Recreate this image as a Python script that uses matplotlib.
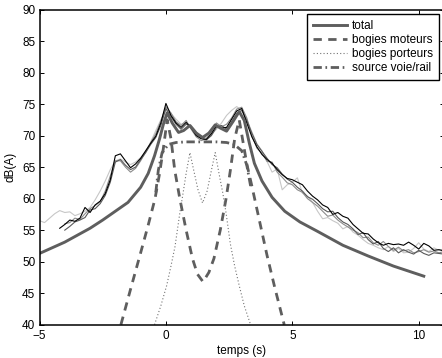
import numpy as np
import matplotlib
matplotlib.use("Agg")
import matplotlib.pyplot as plt

plt.rcParams['font.family'] = ['Liberation Sans', 'DejaVu Sans']
plt.rcParams['font.size'] = 8.5

# MESURES (4 passages), grille temporelle commune
t_mes = [-5.0, -4.8, -4.6, -4.4, -4.2, -4.0, -3.8, -3.6, -3.4, -3.2,
         -3.0, -2.8, -2.6, -2.4, -2.2, -2.0, -1.8, -1.6, -1.4, -1.2,
         -1.0, -0.8, -0.6, -0.4, -0.2, 0.0, 0.2, 0.4, 0.6, 0.8,
         1.0, 1.2, 1.4, 1.6, 1.8, 2.0, 2.2, 2.4, 2.6, 2.8,
         3.0, 3.2, 3.4, 3.6, 3.8, 4.0, 4.2, 4.4, 4.6, 4.8,
         5.0, 5.2, 5.4, 5.6, 5.8, 6.0, 6.2, 6.4, 6.6, 6.8,
         7.0, 7.2, 7.4, 7.6, 7.8, 8.0, 8.2, 8.4, 8.6, 8.8,
         9.0, 9.2, 9.4, 9.6, 9.8, 10.0, 10.2, 10.4, 10.6, 10.8, 11.0]
nan = np.nan
mes_noir = [nan, nan, nan, nan, 55.3, 55.9, 56.6, 56.4, 56.9, 58.6,
            57.8, 59.0, 59.6, 60.8, 63.0, 66.8, 67.1, 66.0, 64.9, 65.5,
            66.4, 67.6, 68.8, 69.9, 72.0, 75.1, 73.2, 72.0, 71.3, 72.1,
            71.2, 70.0, 69.5, 69.4, 70.3, 71.6, 71.2, 71.3, 72.6, 73.9,
            74.3, 72.0, 69.8, 68.2, 67.0, 66.2, 65.6, 64.6, 63.8, 63.2,
            63.0, 62.6, 62.2, 61.2, 60.4, 59.8, 59.0, 58.6, 57.5, 57.8,
            57.2, 56.9, 55.9, 55.2, 54.5, 54.4, 53.6, 53.0, 52.6, 52.9,
            52.7, 52.8, 52.6, 53.1, 52.6, 52.0, 52.9, 52.5, 51.8, 51.9, 51.7]
mes_fonce = [nan, nan, nan, nan, nan, 55.0, 55.6, 56.3, 56.6, 57.0,
             58.2, 58.4, 59.2, 60.5, 62.6, 65.8, 66.2, 65.3, 64.6, 65.0,
             66.2, 67.3, 68.6, 69.7, 71.6, 74.3, 73.0, 71.8, 71.0, 71.8,
             71.4, 70.2, 69.6, 69.3, 70.0, 71.3, 71.6, 71.0, 72.2, 73.5,
             74.0, 72.4, 70.4, 68.6, 67.5, 66.4, 65.4, 64.9, 63.9, 63.1,
             62.6, 61.8, 61.2, 60.3, 59.9, 59.2, 58.4, 57.9, 58.0, 57.0,
             56.3, 55.9, 55.2, 54.3, 54.6, 53.5, 52.8, 53.2, 52.1, 51.6,
             52.2, 51.4, 51.9, 51.5, 51.2, 51.8, 51.3, 51.0, 51.4, 51.3, 51.2]
mes_moyen = [nan, nan, nan, nan, nan, 56.0, 56.2, 56.9, 56.7, 57.6,
             58.4, 58.9, 59.5, 61.2, 63.6, 66.0, 66.0, 65.0, 64.2, 64.8,
             66.0, 67.4, 68.9, 70.3, 72.3, 74.6, 73.6, 72.2, 71.6, 72.4,
             71.0, 69.8, 69.2, 69.5, 70.6, 72.0, 71.4, 71.8, 72.8, 74.2,
             74.5, 72.8, 70.0, 68.0, 67.2, 65.9, 65.8, 64.2, 63.4, 62.5,
             62.2, 61.4, 61.0, 60.0, 59.4, 58.8, 58.0, 57.2, 57.4, 56.6,
             56.0, 55.5, 55.0, 54.6, 53.8, 53.9, 53.0, 52.6, 53.2, 52.4,
             51.8, 52.3, 51.7, 51.9, 51.4, 51.6, 51.9, 51.5, 51.7, 51.4, 51.6]
mes_clair = [56.5, 56.2, 56.9, 57.6, 58.1, 57.8, 57.9, 57.3, 57.6, 58.0,
             58.6, 59.8, 61.2, 62.8, 64.6, 66.0, 66.3, 65.8, 65.4, 65.8,
             66.5, 67.4, 69.0, 70.8, 72.5, 74.0, 73.5, 72.6, 71.8, 72.0,
             71.6, 70.6, 69.8, 69.7, 70.2, 71.0, 72.0, 73.2, 74.0, 74.6,
             74.0, 72.6, 70.6, 68.7, 67.6, 65.9, 64.2, 64.7, 61.4, 62.2,
             62.6, 63.3, 60.9, 60.4, 59.4, 58.0, 56.8, 57.0, 56.5, 56.1,
             55.2, 55.6, 54.7, 54.2, 53.5, 52.9, 52.6, 52.2, 51.9, 52.4,
             51.6, 52.1, 51.4, 51.5, 52.1, 53.0, 52.0, 51.6, 52.2, 51.8, 52.0]

# MODELE : total
t_total = [-5.0, -4.0, -3.0, -2.5, -2.0, -1.5, -1.0, -0.7, -0.45, -0.25,
           -0.1, 0.05, 0.25, 0.5, 0.7, 0.95, 1.2, 1.45, 1.7, 1.95,
           2.15, 2.4, 2.65, 2.9, 3.1, 3.3, 3.5, 3.8, 4.2, 4.7,
           5.3, 6.0, 7.0, 8.0, 9.0, 10.2]
L_total = [51.3, 53.1, 55.3, 56.6, 58.0, 59.4, 61.8, 64.0, 66.8, 69.5,
           71.8, 73.6, 72.0, 70.5, 70.8, 71.6, 70.4, 69.7, 70.4, 71.7,
           71.2, 70.7, 72.2, 73.8, 72.4, 68.8, 65.6, 62.8, 60.2, 58.0,
           56.3, 54.8, 52.6, 50.9, 49.3, 47.7]

# bogies moteurs
t_mot = [-1.78, -1.4, -1.0, -0.7, -0.43, -0.25, -0.1, 0.05, 0.2, 0.35,
         0.55, 0.8, 1.05, 1.25, 1.47, 1.7, 1.9, 2.15, 2.38, 2.55,
         2.72, 2.9, 3.05, 3.2, 3.4, 3.7, 4.0, 4.3, 4.68]
L_mot = [40.0, 45.6, 51.4, 55.8, 60.0, 64.0, 68.0, 72.5, 69.5, 64.5,
         60.0, 55.0, 50.5, 48.0, 46.8, 48.3, 50.5, 55.0, 60.0, 64.5,
         69.5, 72.5, 69.0, 65.5, 62.0, 56.5, 51.0, 46.0, 40.0]

# bogies porteurs
t_por = [-0.45, -0.2, 0.03, 0.2, 0.36, 0.55, 0.68, 0.8, 0.95, 1.1,
         1.27, 1.45, 1.63, 1.8, 1.95, 2.1, 2.25, 2.38, 2.55, 2.72,
         2.9, 3.1, 3.35]
L_por = [40.0, 43.0, 46.2, 49.3, 52.4, 57.7, 60.9, 64.0, 67.3, 64.5,
         61.4, 59.3, 61.2, 64.5, 67.3, 64.0, 60.9, 57.7, 52.8, 49.3,
         46.2, 43.0, 40.0]

# source voie/rail
t_voie = [-0.4, -0.3, -0.15, 0.1, 0.4, 0.8, 1.2, 1.6, 2.0, 2.4,
          2.7, 3.0, 3.2, 3.35]
L_voie = [61.0, 64.5, 67.3, 68.6, 68.9, 69.0, 69.0, 69.0, 69.0, 68.9,
          68.6, 67.6, 65.3, 62.0]

fig = plt.figure(figsize=(4.42, 3.58), dpi=100)
ax = fig.add_axes([39.5/442, 1 - 324.7/358, (444 - 39.5)/442, (324.7 - 9.5)/358])

ax.plot(t_mes, mes_clair, color='0.78', lw=0.8)
ax.plot(t_mes, mes_moyen, color='0.55', lw=0.8)
ax.plot(t_mes, mes_fonce, color='0.35', lw=0.8)
ax.plot(t_mes, mes_noir, color='0.0', lw=0.8)

gris = '#5e5e5e'
ax.plot(t_total, L_total, color=gris, lw=2.1, label='total')
ax.plot(t_mot, L_mot, color=gris, lw=2.0, dashes=(3.0, 2.3), label='bogies moteurs')
ax.plot(t_por, L_por, color='0.45', lw=0.8, dashes=(1.0, 2.0), label='bogies porteurs')
ax.plot(t_voie, L_voie, color=gris, lw=2.0, dashes=(3.0, 1.3, 0.6, 1.3), label='source voie/rail')

ax.set_xlim(-5, 11)
ax.set_ylim(40, 90)
ax.set_xticks([-5, 0, 5, 10])
ax.set_yticks([40, 45, 50, 55, 60, 65, 70, 75, 80, 85, 90])
ax.tick_params(direction='in', top=True, right=True, length=3, width=0.7)
ax.tick_params(axis='x', pad=4)
ax.tick_params(axis='y', pad=3)
for s in ax.spines.values():
    s.set_linewidth(1.1)
ax.set_xlabel('temps (s)', labelpad=2)
ax.set_ylabel('dB(A)', labelpad=4)

leg = ax.legend(loc='upper right', bbox_to_anchor=(439/442, 1 - 14/358),
                bbox_transform=fig.transFigure, borderaxespad=0,
                fancybox=False, framealpha=1, edgecolor='black',
                handlelength=2.9, handletextpad=0.4, labelspacing=0.17,
                borderpad=0.5)
leg.get_frame().set_linewidth(1.0)

fig.savefig('out.png', dpi=100)
